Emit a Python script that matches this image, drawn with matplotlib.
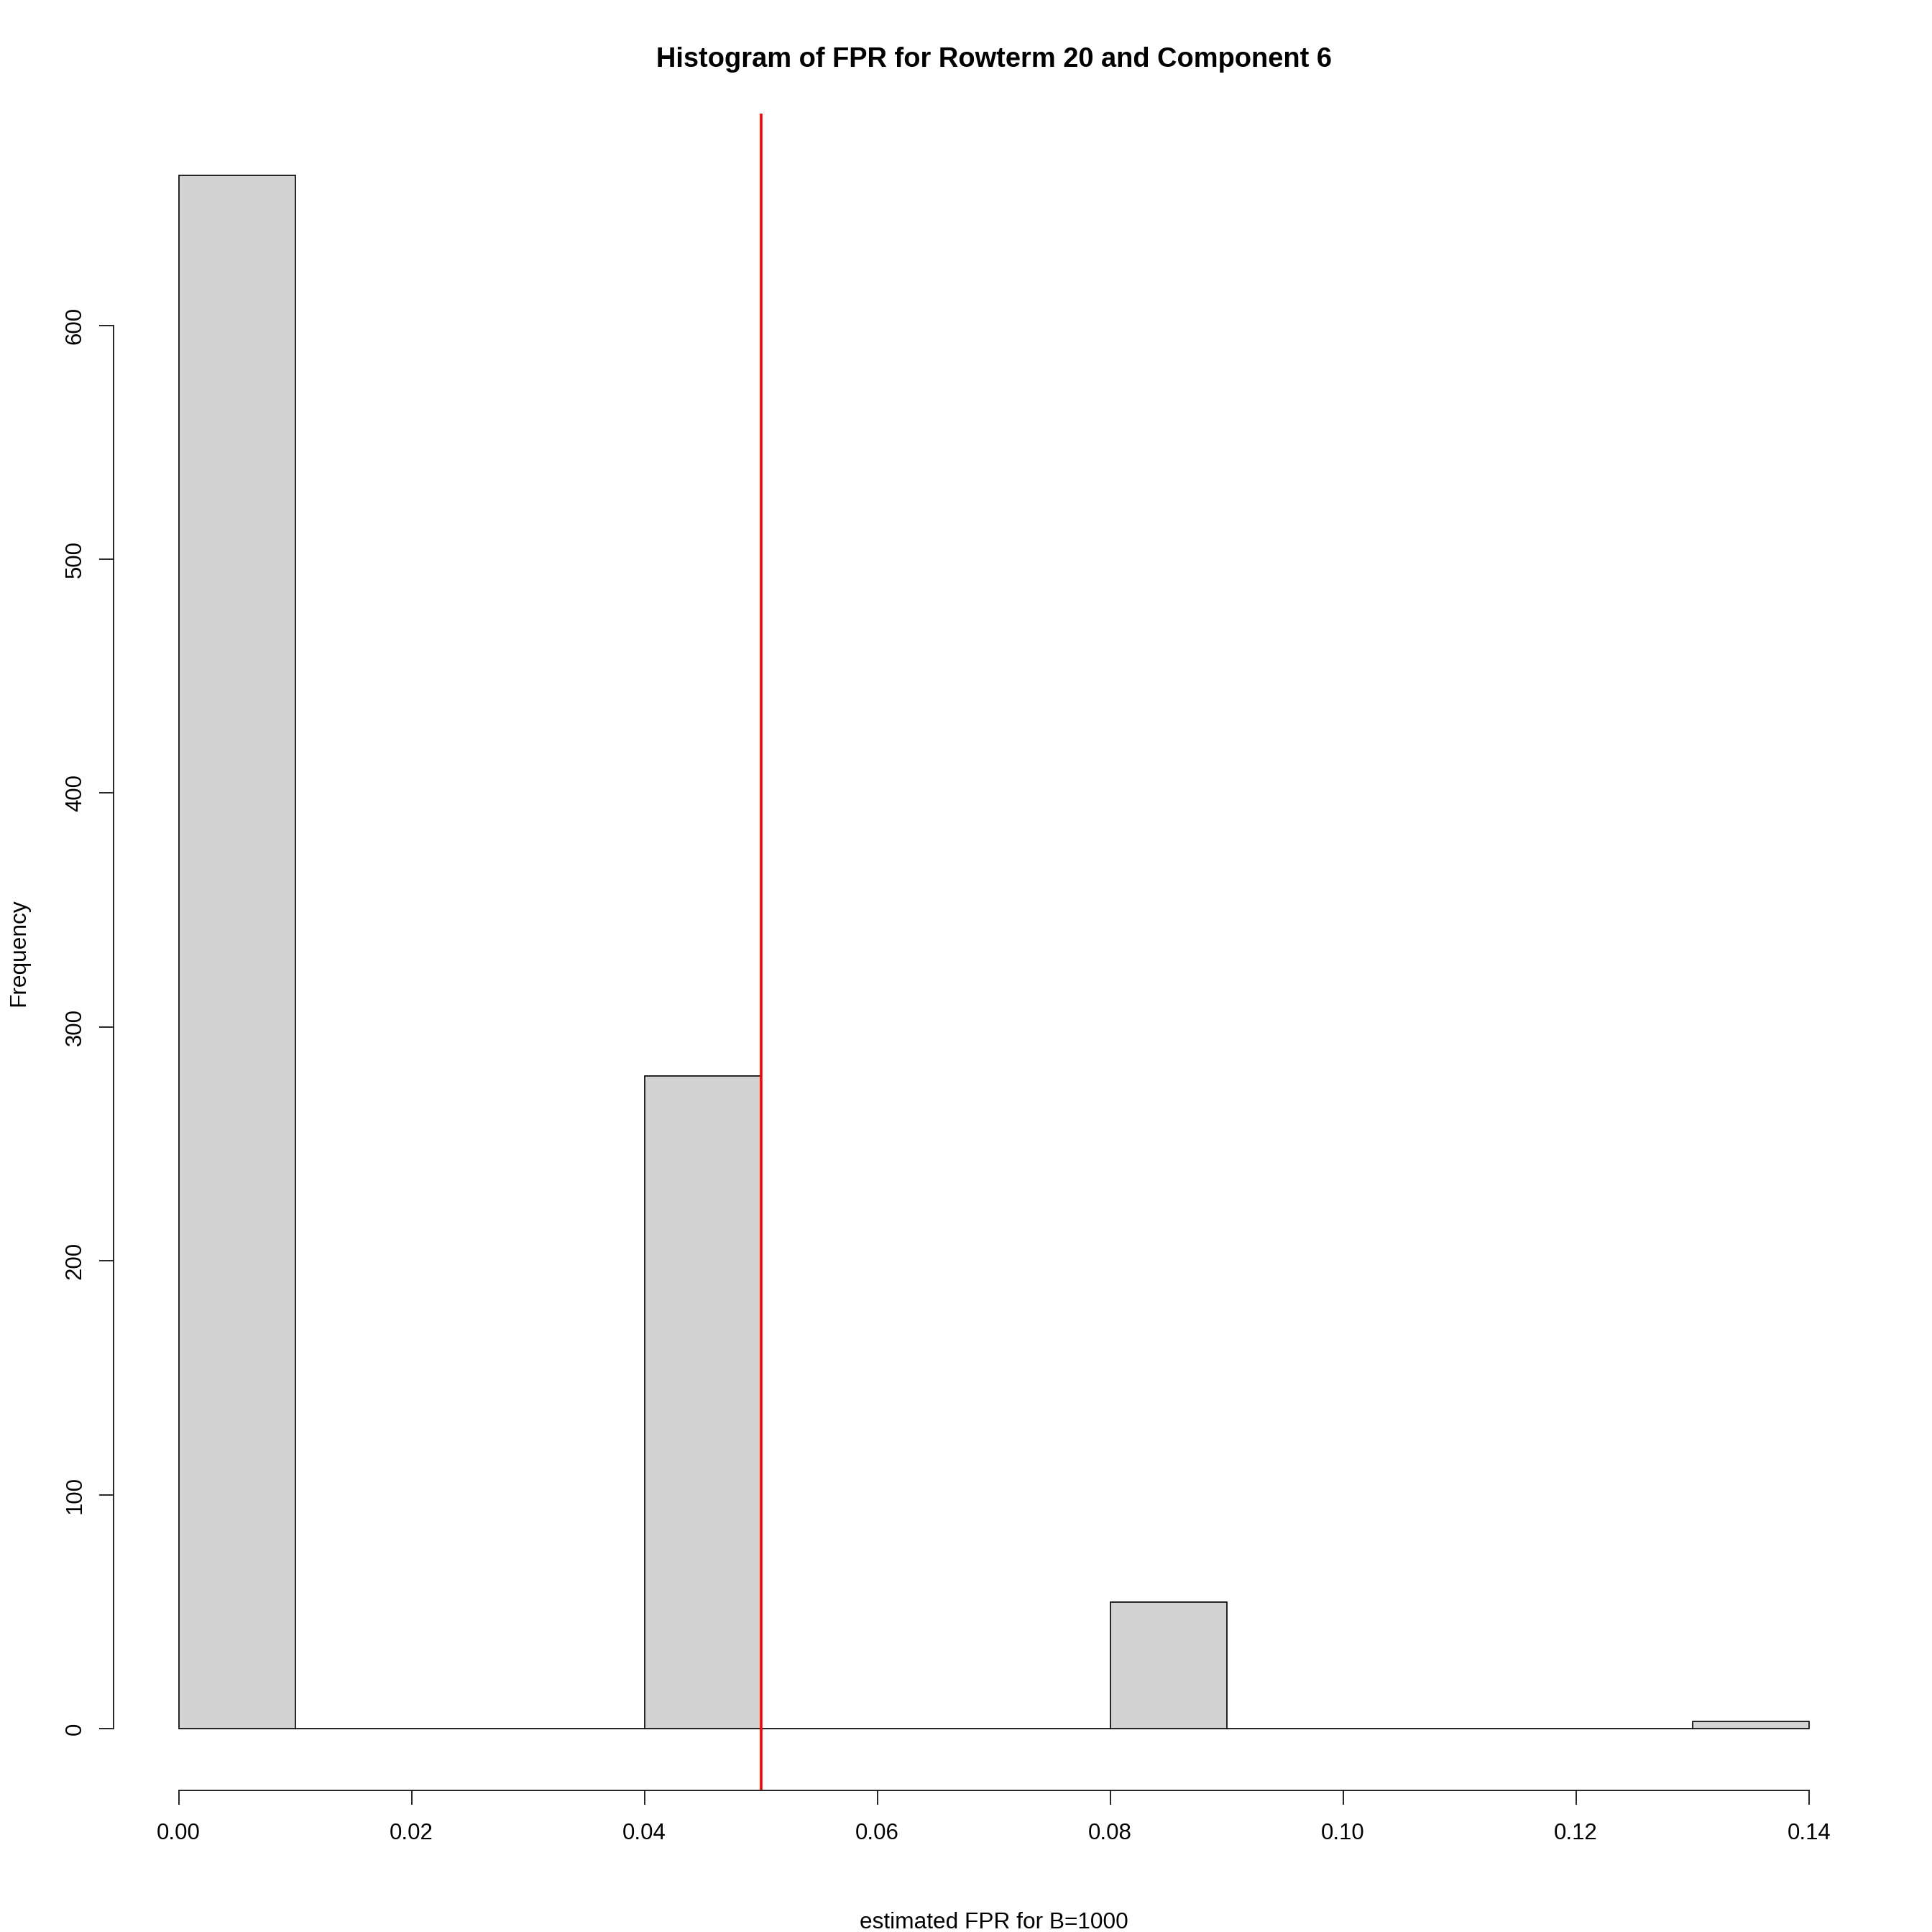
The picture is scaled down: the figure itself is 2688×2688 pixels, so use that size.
import matplotlib
matplotlib.use("Agg")
import matplotlib.pyplot as plt
import numpy as np

bin_edges = [0.00, 0.01, 0.02, 0.03, 0.04, 0.05, 0.06, 0.07, 0.08, 0.09, 0.10, 0.11, 0.12, 0.13, 0.14]
counts = [664, 0, 0, 0, 279, 0, 0, 0, 54, 0, 0, 0, 0, 3]
threshold = 0.05
x_ticks = [0.00, 0.02, 0.04, 0.06, 0.08, 0.10, 0.12, 0.14]
x_tick_labels = ["0.00", "0.02", "0.04", "0.06", "0.08", "0.10", "0.12", "0.14"]
y_ticks = [0, 100, 200, 300, 400, 500, 600]
title = "Histogram of FPR for Rowterm 20 and Component 6"
xlabel = "estimated FPR for B=1000"
ylabel = "Frequency"

DPI = 200
W = 2688
plt.rcParams['font.family'] = ['Liberation Sans', 'DejaVu Sans']
fig = plt.figure(figsize=(W / DPI, W / DPI), dpi=DPI)

left, right = 157.9 / W, 2607.3 / W
bottom, top = (W - 2491.4) / W, (W - 157.9) / W
ax = fig.add_axes([left, bottom, right - left, top - bottom])

edges = np.array(bin_edges)
ax.bar(edges[:-1], counts, width=np.diff(edges), align='edge',
       color='#d3d3d3', edgecolor='black', linewidth=0.6)
ax.axvline(threshold, color='#ff0000', linewidth=1.3)

xr = edges[-1] - edges[0]
ax.set_xlim(edges[0] - 0.04 * xr, edges[-1] + 0.04 * xr)
ymax = max(counts)
ax.set_ylim(-0.04 * ymax, ymax * 1.04)

for s in ['top', 'right']:
    ax.spines[s].set_visible(False)
ax.spines['left'].set_bounds(y_ticks[0], y_ticks[-1])
ax.spines['bottom'].set_bounds(x_ticks[0], x_ticks[-1])
ax.spines['left'].set_linewidth(0.6)
ax.spines['bottom'].set_linewidth(0.6)

ax.set_xticks(x_ticks)
ax.set_xticklabels(x_tick_labels)
ax.set_yticks(y_ticks)
ax.set_yticklabels([str(v) for v in y_ticks], rotation=90, va='center')
ax.tick_params(axis='both', length=7.2, width=0.6, labelsize=11.2)
ax.tick_params(axis='x', pad=9)
ax.tick_params(axis='y', pad=6.5)

cx = (left + right) / 2
cy = (bottom + top) / 2
fig.text(cx, 1 - 83 / W, title, ha='center', va='center',
         fontsize=13.7, fontweight='bold')
fig.text(cx, 1 - 2675 / W, xlabel, ha='center', va='center', fontsize=11.4)
fig.text(26 / W, cy, ylabel, ha='center', va='center', rotation=90, fontsize=11.4)

fig.savefig("out.png", dpi=DPI)
